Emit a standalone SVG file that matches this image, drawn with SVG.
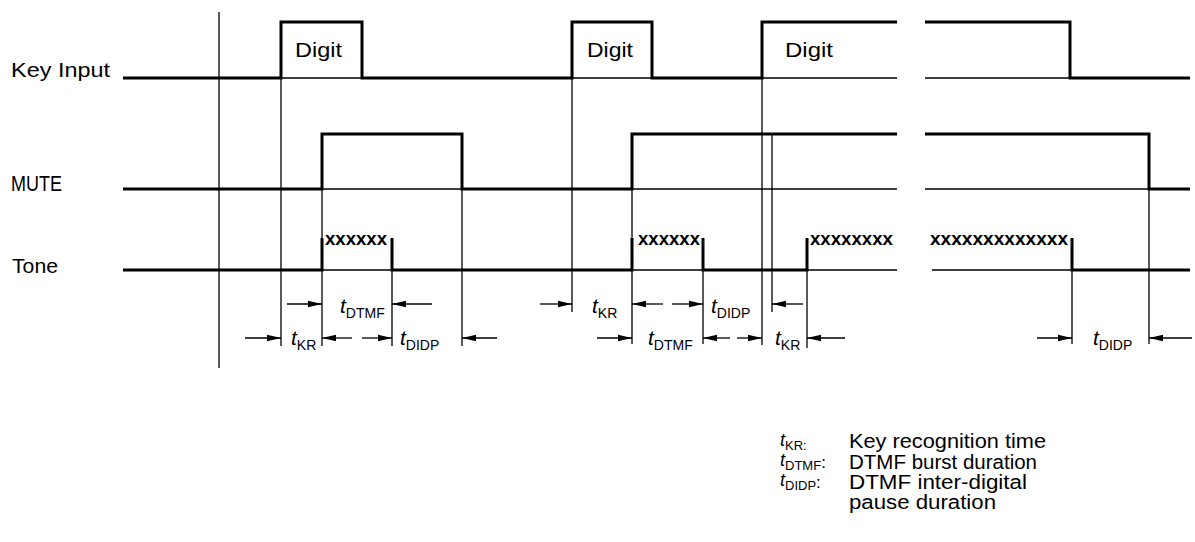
<svg xmlns="http://www.w3.org/2000/svg" width="1195" height="542" viewBox="0 0 1195 542">
<defs>
<marker id="ah" viewBox="0 0 14 8" refX="14" refY="4" markerWidth="14" markerHeight="8" markerUnits="userSpaceOnUse" orient="auto">
<path d="M0,0.8 L14,4 L0,7.2 z" fill="#000"/>
</marker>
<style>
.sig{stroke:#000;stroke-width:3;fill:none;stroke-linejoin:miter}
.base{stroke:#000;stroke-width:1.5;fill:none}
.ext{stroke:#000;stroke-width:1.3;fill:none}
.dim{stroke:#000;stroke-width:1.3;fill:none;marker-end:url(#ah)}
.lbl{font-family:"Liberation Sans",Arial,sans-serif;font-size:21px;fill:#000}
.xs{font-family:"Liberation Sans",Arial,sans-serif;font-size:19px;font-weight:bold;fill:#000}
.tl{font-family:"Liberation Sans",Arial,sans-serif;font-size:21px;font-style:italic;fill:#000}
.sub{font-style:normal;font-size:14px}
.lt{font-family:"Liberation Sans",Arial,sans-serif;font-size:18px;font-style:italic;fill:#000}
.lsub{font-style:normal;font-size:13px}
.leg{font-family:"Liberation Sans",Arial,sans-serif;font-size:20px;fill:#000}
</style>
</defs>
<rect width="1195" height="542" fill="#fff"/>

<g id="labels">
<text class="lbl" x="11" y="77" textLength="99" lengthAdjust="spacingAndGlyphs">Key Input</text>
<text class="lbl" x="11" y="191" style="font-size:22px" textLength="51" lengthAdjust="spacingAndGlyphs">MUTE</text>
<text class="lbl" x="12" y="273" textLength="46" lengthAdjust="spacingAndGlyphs">Tone</text>
</g>

<g id="connectors">
<line class="ext" x1="219" y1="12" x2="219" y2="368"/>
<line class="ext" x1="281" y1="78" x2="281" y2="346"/>
<line class="ext" x1="322" y1="189" x2="322" y2="346"/>
<line class="ext" x1="392" y1="270" x2="392" y2="346"/>
<line class="ext" x1="462" y1="189" x2="462" y2="346"/>
<line class="ext" x1="572" y1="78" x2="572" y2="312"/>
<line class="ext" x1="632" y1="189" x2="632" y2="344"/>
<line class="ext" x1="703" y1="270" x2="703" y2="344"/>
<line class="ext" x1="762" y1="78" x2="762" y2="345"/>
<line class="ext" x1="772" y1="134" x2="772" y2="312"/>
<line class="ext" x1="807" y1="270" x2="807" y2="348"/>
<line class="ext" x1="1072" y1="270" x2="1072" y2="344"/>
<line class="ext" x1="1149" y1="189" x2="1149" y2="344"/>
<line class="dim" x1="287" y1="304" x2="322" y2="304"/>
<line class="dim" x1="432" y1="304" x2="392" y2="304"/>
<line class="dim" x1="540" y1="304" x2="572" y2="304"/>
<line class="dim" x1="663" y1="304" x2="632" y2="304"/>
<line class="dim" x1="672" y1="304" x2="703" y2="304"/>
<line class="dim" x1="803" y1="304" x2="772" y2="304"/>
<line class="dim" x1="245" y1="338" x2="281" y2="338"/>
<line class="dim" x1="352" y1="338" x2="322" y2="338"/>
<line class="dim" x1="362" y1="338" x2="392" y2="338"/>
<line class="dim" x1="497" y1="338" x2="462" y2="338"/>
<line class="dim" x1="597" y1="338" x2="632" y2="338"/>
<line class="dim" x1="730" y1="338" x2="703" y2="338"/>
<line class="dim" x1="737" y1="338" x2="762" y2="338"/>
<line class="dim" x1="845" y1="338" x2="807" y2="338"/>
<line class="dim" x1="1037" y1="338" x2="1072" y2="338"/>
<line class="dim" x1="1192" y1="338" x2="1149" y2="338"/>
</g>

<g id="key-input">
<path class="base" d="M123,78 H897 M925,78 H1190"/>
<path class="sig" d="M123,78 H281 V22 H362 V78 H572 V22 H652 V78 H762 V22 H897"/>
<path class="sig" d="M925,22 H1070 V78 H1190"/>
<text class="lbl" x="295" y="57" textLength="47" lengthAdjust="spacingAndGlyphs">Digit</text>
<text class="lbl" x="587" y="57" textLength="46" lengthAdjust="spacingAndGlyphs">Digit</text>
<text class="lbl" x="785" y="57" textLength="48" lengthAdjust="spacingAndGlyphs">Digit</text>
</g>

<g id="mute">
<path class="base" d="M123,189 H897 M925,189 H1190"/>
<path class="sig" d="M123,189 H322 V134 H462 V189 H632 V134 H897"/>
<path class="sig" d="M925,134 H1149 V189 H1190"/>
</g>

<g id="tone">
<path class="base" d="M123,270 H897 M932,270 H1190"/>
<path class="sig" d="M123,270 H322 V238"/>
<path class="sig" d="M392,238 V270 H632 V238"/>
<path class="sig" d="M703,238 V270 H807 V238"/>
<path class="sig" d="M1072,238 V270 H1190"/>
<text class="xs" x="325" y="245" textLength="62" lengthAdjust="spacingAndGlyphs">xxxxxx</text>
<text class="xs" x="638" y="245" textLength="62" lengthAdjust="spacingAndGlyphs">xxxxxx</text>
<text class="xs" x="810" y="245" textLength="83" lengthAdjust="spacingAndGlyphs">xxxxxxxx</text>
<text class="xs" x="930" y="245" textLength="138" lengthAdjust="spacingAndGlyphs">xxxxxxxxxxxxx</text>
</g>

<g id="time-labels">
<text class="tl" x="340" y="313">t<tspan class="sub" dy="5">DTMF</tspan></text>
<text class="tl" x="592" y="313">t<tspan class="sub" dy="5">KR</tspan></text>
<text class="tl" x="711" y="313">t<tspan class="sub" dy="5">DIDP</tspan></text>
<text class="tl" x="291" y="345">t<tspan class="sub" dy="5">KR</tspan></text>
<text class="tl" x="400" y="345">t<tspan class="sub" dy="5">DIDP</tspan></text>
<text class="tl" x="648" y="345">t<tspan class="sub" dy="5">DTMF</tspan></text>
<text class="tl" x="775" y="345">t<tspan class="sub" dy="5">KR</tspan></text>
<text class="tl" x="1093" y="345">t<tspan class="sub" dy="5">DIDP</tspan></text>
</g>

<g id="legend">
<text class="lt" x="780" y="446">t<tspan class="lsub" dy="4">KR:</tspan></text>
<text class="lt" x="780" y="466">t<tspan class="lsub" dy="4">DTMF</tspan><tspan font-style="normal" font-size="17" dy="-2">:</tspan></text>
<text class="lt" x="780" y="486">t<tspan class="lsub" dy="4">DIDP</tspan><tspan font-style="normal" font-size="17" dy="-2">:</tspan></text>
<text class="leg" x="849" y="448" textLength="197" lengthAdjust="spacingAndGlyphs">Key recognition time</text>
<text class="leg" x="849" y="469" textLength="188" lengthAdjust="spacingAndGlyphs">DTMF burst duration</text>
<text class="leg" x="849" y="489" textLength="178" lengthAdjust="spacingAndGlyphs">DTMF inter-digital</text>
<text class="leg" x="849" y="509" textLength="147" lengthAdjust="spacingAndGlyphs">pause duration</text>
</g>
</svg>
